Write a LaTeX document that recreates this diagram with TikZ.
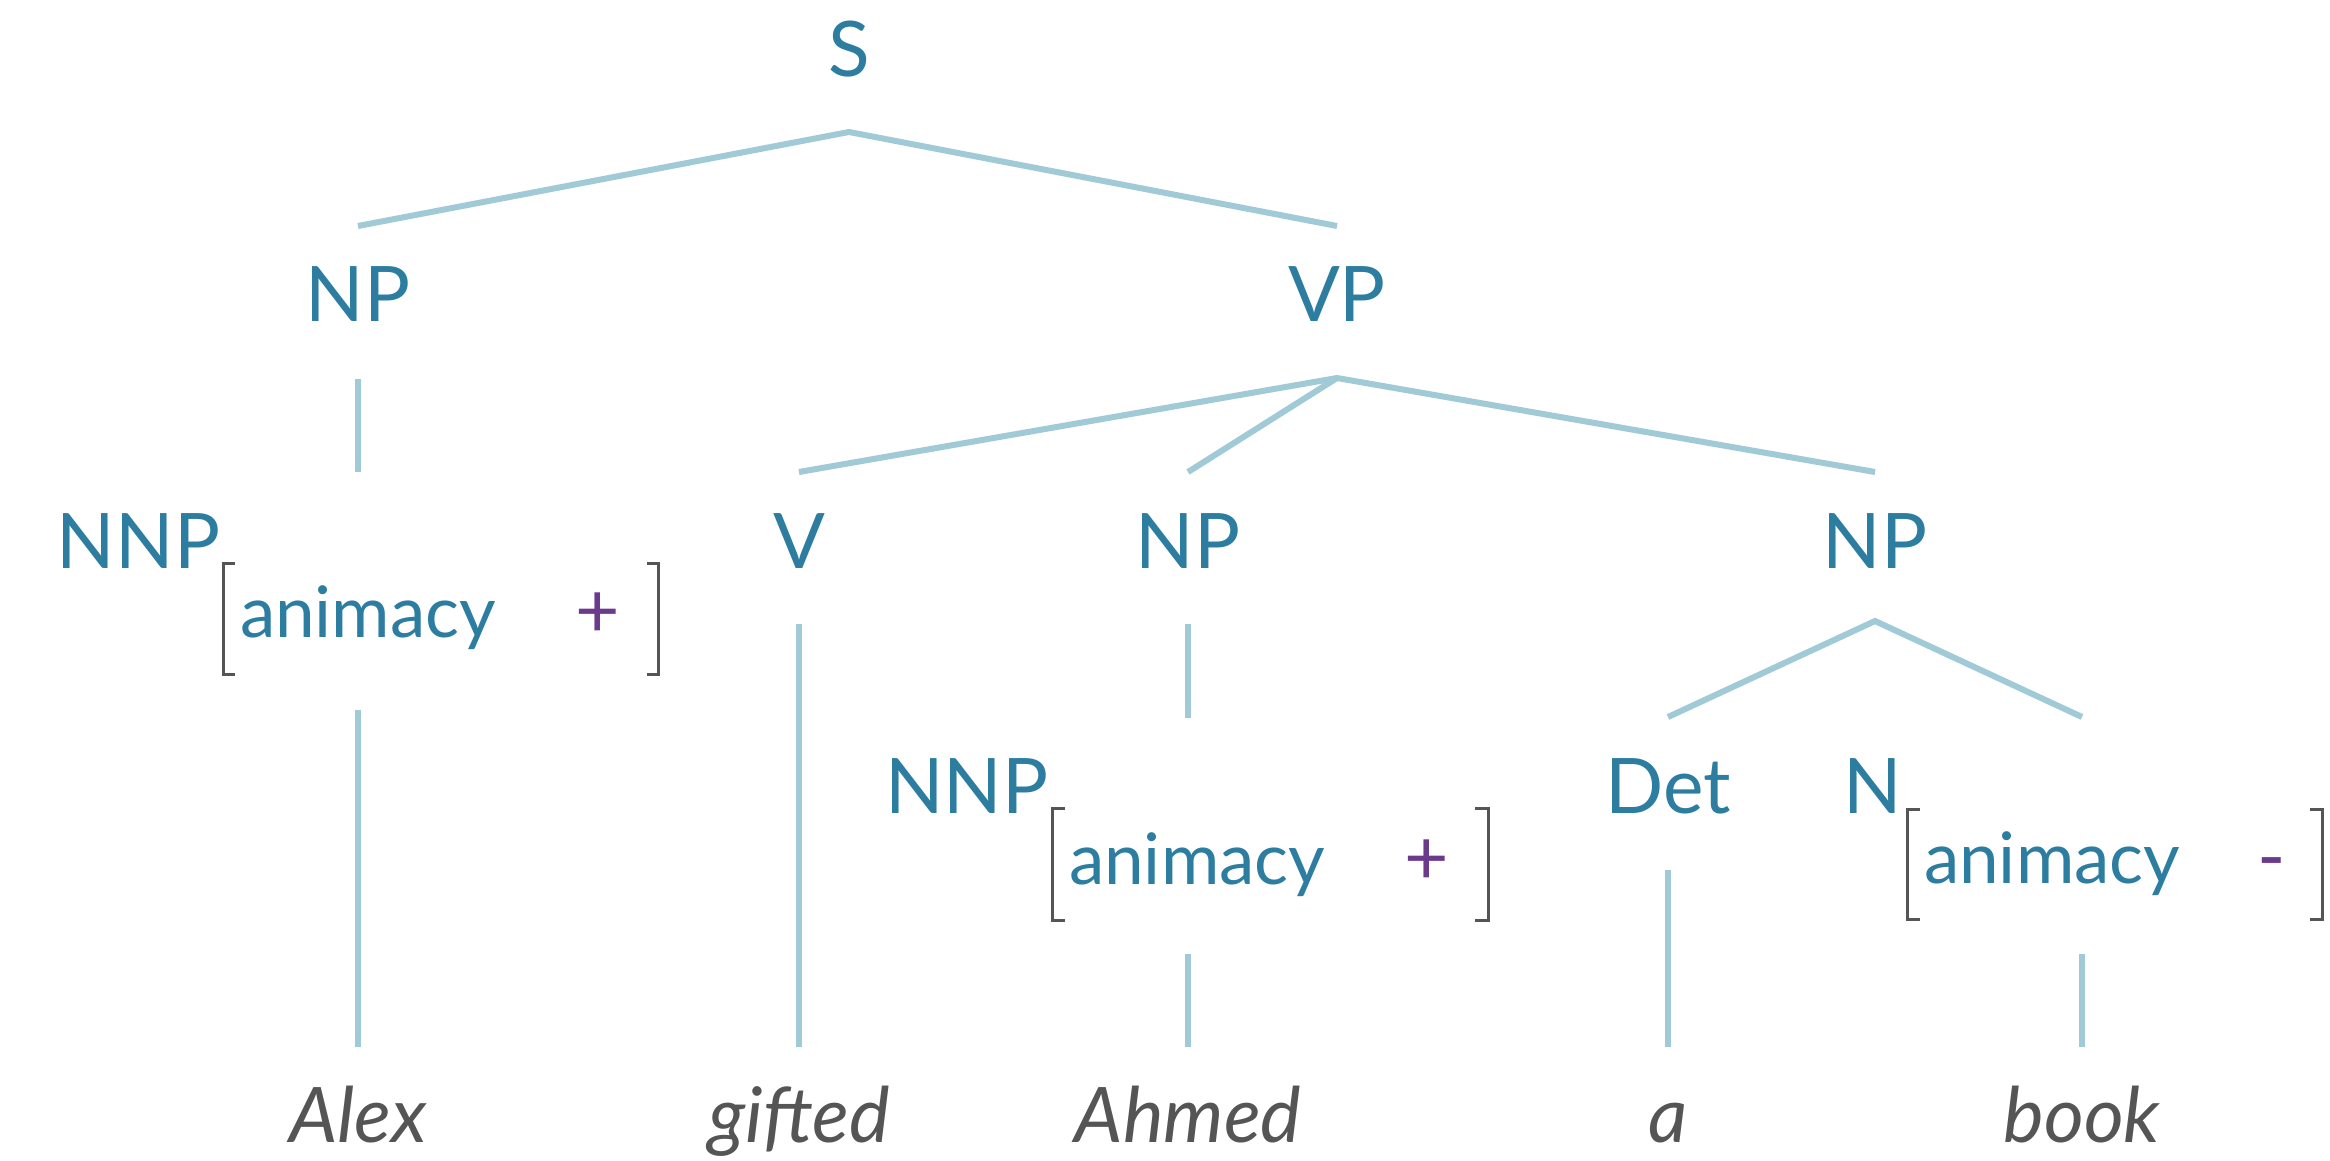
\documentclass[tikz,border=0pt]{standalone}
\usepackage{fontspec}
\setmainfont{Lato}
\definecolor{labc}{HTML}{2C7DA0}
\definecolor{brc}{HTML}{9FCAD6}
\definecolor{bkc}{HTML}{555555}
\definecolor{valc}{HTML}{6B3A8C}
\definecolor{wordc}{HTML}{555555}
\begin{document}
\begin{tikzpicture}[x=0.01cm,y=-0.01cm,
  cat/.style={text=labc, inner sep=0pt, outer sep=0pt, font=\fontsize{21.8}{26}\selectfont, anchor=base},
  feat/.style={text=labc, inner sep=0pt, outer sep=0pt, font=\fontsize{20.2}{24}\selectfont, anchor=base west},
  valn/.style={text=valc, inner sep=0pt, outer sep=0pt, font=\fontsize{21.8}{26}\selectfont, anchor=base},
  wordn/.style={text=wordc, inner sep=0pt, outer sep=0pt, font=\fontsize{21.8}{26}\selectfont\itshape, anchor=base},
  branch/.style={draw=brc, line width=0.06cm},
  avm/.style={draw=bkc, line width=0.03cm}]
\fill[white] (0,0) rectangle (2330,1161);
\useasboundingbox (0,0) rectangle (2330,1161);

% category labels
\node[cat] (S) at (849,77) {S};
\node[cat] (NPa) at (358,322) {NP};
\node[cat] (VP) at (1337,322) {VP};
\node[cat] (V) at (799,568) {V};
\node[cat] (NPm) at (1188,568) {NP};
\node[cat] (NPr) at (1875,568) {NP};
\node[cat] (Det) at (1668,813) {Det};

% NNP with feature (left)
\node[cat, anchor=base west] (NNPa) at (57,568) {NNP};
\node[feat] (FA) at (240,637) {animacy};
\node[valn] (VA) at (598,637) {+};
\draw[avm] (235,563.5) -| (223.5,674.5) -- (235,674.5);
\draw[avm] (647,563.5) -| (658.5,674.5) -- (647,674.5);

% NNP with feature (middle)
\node[cat, anchor=base west] (NNPb) at (885,813) {NNP};
\node[feat] (FB) at (1069,884) {animacy};
\node[valn] (VB) at (1427,884) {+};
\draw[avm] (1065,808.5) -| (1052.5,920.5) -- (1065,920.5);
\draw[avm] (1475,808.5) -| (1488.5,920.5) -- (1475,920.5);

% N with feature
\node[cat, anchor=base west] (N) at (1843,813) {N};
\node[feat] (FC) at (1924,883) {animacy};
\node[valn] (VC) at (2272,883) {-};
\draw[avm] (1920,809.5) -| (1907,919.5) -- (1920,919.5);
\draw[avm] (2310,809.5) -| (2322,919.5) -- (2310,919.5);

% words
\node[wordn] (w1) at (358,1142) {Alex};
\node[wordn] (w2) at (799,1142) {gifted};
\node[wordn] (w3) at (1188,1142) {Ahmed};
\node[wordn] (w4) at (1668,1142) {a};
\node[wordn] (w5) at (2082,1142) {book};

% attachment points of the feature groups
\coordinate (NNPa-t) at (358,472);
\coordinate (NNPa-b) at (358,710);
\coordinate (NNPb-t) at (1188,718);
\coordinate (NNPb-b) at (1188,954);
\coordinate (N-t) at (2082,717);
\coordinate (N-b) at (2082,954);

% branches
\draw[branch] ([shift={(0,-96)}]NPa.base) -- ([shift={(0,55)}]S.base) -- ([shift={(0,-96)}]VP.base);
\draw[branch] ([shift={(0,57)}]NPa.base) -- (NNPa-t);
\draw[branch] (NNPa-b) -- ([shift={(0,-95)}]w1.base);
\draw[branch] ([shift={(0,-96)}]V.base) -- ([shift={(0,56)}]VP.base) -- ([shift={(0,-96)}]NPr.base);
\draw[branch] ([shift={(0,56)}]VP.base) -- ([shift={(0,-96)}]NPm.base);
\draw[branch] ([shift={(0,56)}]V.base) -- ([shift={(0,-95)}]w2.base);
\draw[branch] ([shift={(0,56)}]NPm.base) -- (NNPb-t);
\draw[branch] (NNPb-b) -- ([shift={(0,-95)}]w3.base);
\draw[branch] ([shift={(0,-96)}]Det.base) -- ([shift={(0,53)}]NPr.base) -- (N-t);
\draw[branch] ([shift={(0,57)}]Det.base) -- ([shift={(0,-95)}]w4.base);
\draw[branch] (N-b) -- ([shift={(0,-95)}]w5.base);
\end{tikzpicture}
\end{document}
